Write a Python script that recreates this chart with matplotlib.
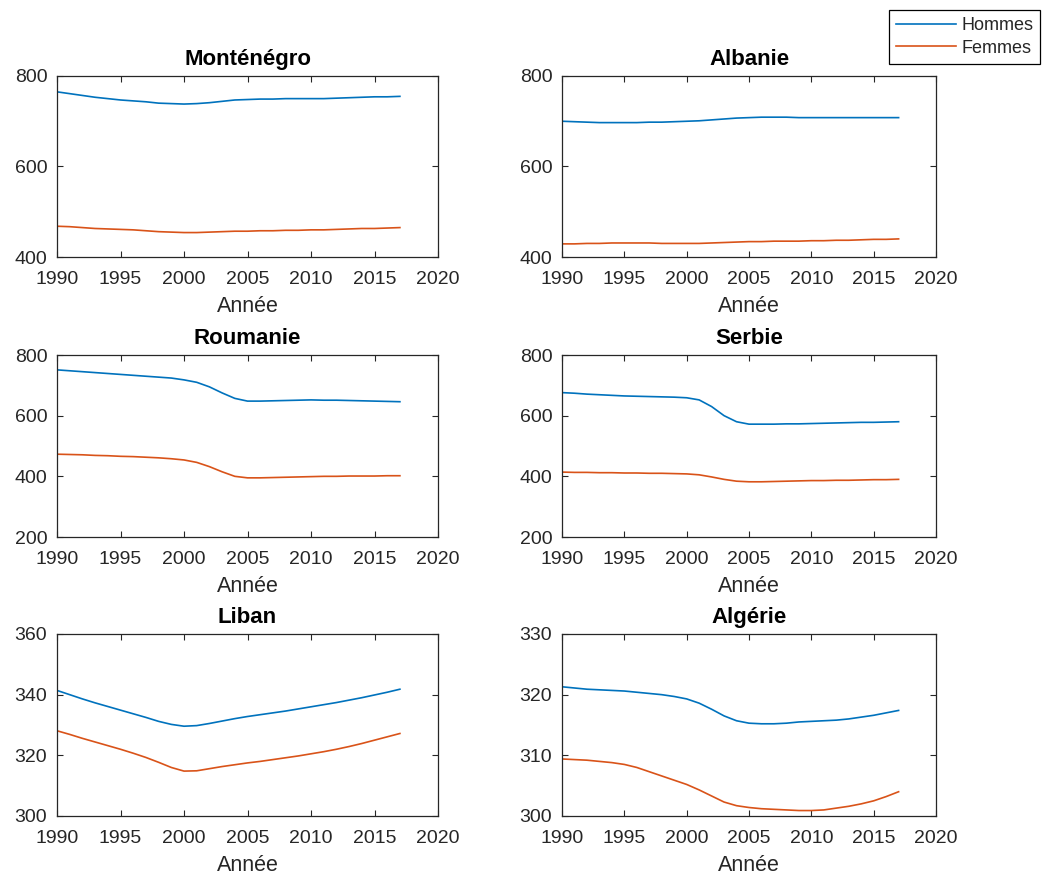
import matplotlib
matplotlib.use("Agg")
import matplotlib.pyplot as plt

years = list(range(1990, 2018))

countries = ["Monténégro", "Albanie", "Roumanie", "Serbie", "Liban", "Algérie"]

montenegro_h = [765, 761, 757, 753, 750, 747, 745, 743, 740, 739, 738, 739, 741, 744,
                747, 748, 749, 749, 750, 750, 750, 750, 751, 752, 753, 754, 754, 755]
montenegro_f = [468, 467, 465, 463, 462, 461, 460, 458, 456, 455, 454, 454, 455, 456,
                457, 457, 458, 458, 459, 459, 460, 460, 461, 462, 463, 463, 464, 465]

albanie_h = [700, 699, 698, 697, 697, 697, 697, 698, 698, 699, 700, 701, 703, 705,
             707, 708, 709, 709, 709, 708, 708, 708, 708, 708, 708, 708, 708, 708]
albanie_f = [429, 429, 430, 430, 431, 431, 431, 431, 430, 430, 430, 430, 431, 432,
             433, 434, 434, 435, 435, 435, 436, 436, 437, 437, 438, 439, 439, 440]

roumanie_h = [751, 748, 745, 742, 739, 736, 733, 730, 727, 724, 718, 710, 695, 675,
              657, 648, 648, 649, 650, 651, 652, 651, 651, 650, 649, 648, 647, 646]
roumanie_f = [473, 472, 471, 469, 468, 466, 465, 463, 461, 458, 454, 446, 432, 415,
              400, 395, 395, 396, 397, 398, 399, 400, 400, 401, 401, 401, 402, 402]

serbie_h = [676, 674, 671, 669, 667, 665, 664, 663, 662, 661, 659, 652, 630, 600,
            580, 572, 572, 572, 573, 573, 574, 575, 576, 577, 578, 578, 579, 580]
serbie_f = [414, 413, 413, 412, 412, 411, 411, 410, 410, 409, 408, 405, 398, 390,
            384, 382, 382, 383, 384, 385, 386, 386, 387, 387, 388, 389, 389, 390]

liban_h = [341.4, 340.0, 338.6, 337.3, 336.1, 334.9, 333.7, 332.5, 331.2, 330.2,
           329.6, 329.8, 330.5, 331.3, 332.1, 332.8, 333.4, 334.0, 334.6, 335.3,
           336.0, 336.7, 337.4, 338.2, 339.0, 339.9, 340.8, 341.8]
liban_f = [328.1, 326.9, 325.6, 324.4, 323.2, 322.0, 320.7, 319.3, 317.7, 316.0,
           314.8, 314.9, 315.6, 316.3, 316.9, 317.5, 318.0, 318.6, 319.2, 319.8,
           320.5, 321.2, 322.0, 322.9, 323.9, 325.0, 326.1, 327.2]

algerie_h = [321.3, 321.1, 320.9, 320.8, 320.7, 320.6, 320.4, 320.2, 320.0, 319.7,
             319.3, 318.6, 317.6, 316.5, 315.7, 315.3, 315.2, 315.2, 315.3, 315.5,
             315.6, 315.7, 315.8, 316.0, 316.3, 316.6, 317.0, 317.4]
algerie_f = [309.4, 309.3, 309.2, 309.0, 308.8, 308.5, 308.0, 307.3, 306.6, 305.9,
             305.2, 304.3, 303.3, 302.3, 301.7, 301.4, 301.2, 301.1, 301.0, 300.9,
             300.9, 301.0, 301.3, 301.6, 302.0, 302.5, 303.2, 304.0]

hommes = [montenegro_h, albanie_h, roumanie_h, serbie_h, liban_h, algerie_h]
femmes = [montenegro_f, albanie_f, roumanie_f, serbie_f, liban_f, algerie_f]

y_ticks = [
    [400, 600, 800],
    [400, 600, 800],
    [200, 400, 600, 800],
    [200, 400, 600, 800],
    [300, 320, 340, 360],
    [300, 310, 320, 330],
]
x_ticks = [1990, 1995, 2000, 2005, 2010, 2015, 2020]

plt.rcParams['font.family'] = ['Liberation Sans', 'DejaVu Sans']

W, H = 1043, 877
fig = plt.figure(figsize=(W / 100, H / 100), dpi=100)

col_x = [(57, 381), (562, 374)]
row_y = [(76, 257), (355, 537), (634, 816)]

c_h = '#0072BD'
c_f = '#D95319'
gray = '#262626'

lines = None
for i, name in enumerate(countries):
    r, c = divmod(i, 2)
    x0, w = col_x[c]
    yt, yb = row_y[r]
    ax = fig.add_axes([x0 / W, 1 - yb / H, w / W, (yb - yt) / H])
    l1, = ax.plot(years, hommes[i], color=c_h, lw=1.2, label='Hommes')
    l2, = ax.plot(years, femmes[i], color=c_f, lw=1.2, label='Femmes')
    if lines is None:
        lines = (l1, l2)
    ax.set_xlim(1990, 2020)
    ax.set_ylim(y_ticks[i][0], y_ticks[i][-1])
    ax.set_xticks(x_ticks)
    ax.set_yticks(y_ticks[i])
    ax.tick_params(direction='in', top=True, right=True, length=4, width=0.8,
                   colors=gray, labelsize=14)
    ax.tick_params(axis='x', pad=10)
    ax.tick_params(axis='y', pad=7)
    for s in ax.spines.values():
        s.set_color(gray)
        s.set_linewidth(0.9)
    ax.set_title(name, fontsize=16, fontweight='bold', color='black', pad=8)
    ax.set_xlabel('Année', fontsize=15.5, color=gray, labelpad=6)

leg = fig.legend(lines, ['Hommes', 'Femmes'], loc='upper left',
                 bbox_to_anchor=(889 / W, 1 - 10 / H), fontsize=13,
                 fancybox=False, edgecolor='black', framealpha=1,
                 handlelength=3.3, borderpad=0.4, labelspacing=0.3,
                 handletextpad=0.3, borderaxespad=0)
leg.get_frame().set_linewidth(0.9)
for t in leg.get_texts():
    t.set_color(gray)

fig.savefig('out.png', dpi=100)
